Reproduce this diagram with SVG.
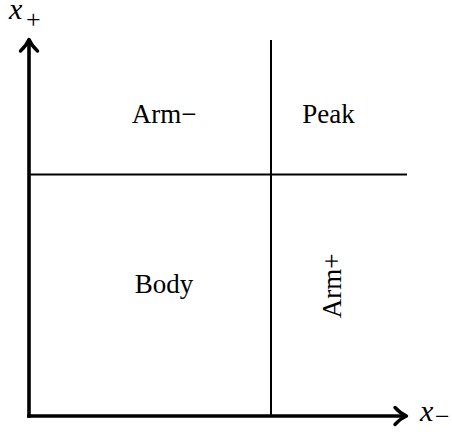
<svg xmlns="http://www.w3.org/2000/svg" width="452" height="432" viewBox="0 0 452 432">
<style>
.lbl{font-family:"Liberation Serif","Times New Roman",serif;font-size:27px;fill:#000}
.mth{font-family:"Liberation Serif","Times New Roman",serif;font-style:italic;font-size:30px;fill:#000}
.sub{font-family:"Liberation Serif","Times New Roman",serif;font-size:26px;fill:#000}
.axis{stroke:#000;stroke-width:3.6;fill:none}
.line{stroke:#000;stroke-width:2;fill:none}
.head{stroke:#000;stroke-width:3.4;fill:none;stroke-linecap:round;stroke-linejoin:round}
</style>
<rect width="452" height="432" fill="#fff"/>
<g id="connectors">
<line class="line" x1="271" y1="40" x2="271" y2="416"/>
<line class="line" x1="29" y1="174.5" x2="407" y2="174.5"/>
<line class="axis" x1="29" y1="417.8" x2="29" y2="41"/>
<line class="axis" x1="27.2" y1="416" x2="405" y2="416"/>
<path class="head" d="M20.5,51 Q26.5,45.5 29,39.5 Q31.5,45.5 37.5,51"/>
<path class="head" d="M395,407.5 Q400.5,413.5 406.5,416 Q400.5,418.5 395,424.5"/>
</g>
<g id="axis-xplus"><text class="mth" x="9" y="19">x</text><text class="sub" x="26" y="28">+</text></g>
<g id="axis-xminus"><text class="mth" x="420" y="421">x</text><text class="sub" x="435" y="425">−</text></g>
<g id="arm-minus"><text class="lbl" x="164" y="123" text-anchor="middle">Arm−</text></g>
<g id="peak"><text class="lbl" x="328.5" y="123" text-anchor="middle">Peak</text></g>
<g id="body"><text class="lbl" x="164" y="293" text-anchor="middle">Body</text></g>
<g id="arm-plus"><text class="lbl" x="341" y="286" text-anchor="middle" transform="rotate(-90 341 286)">Arm+</text></g>
</svg>
